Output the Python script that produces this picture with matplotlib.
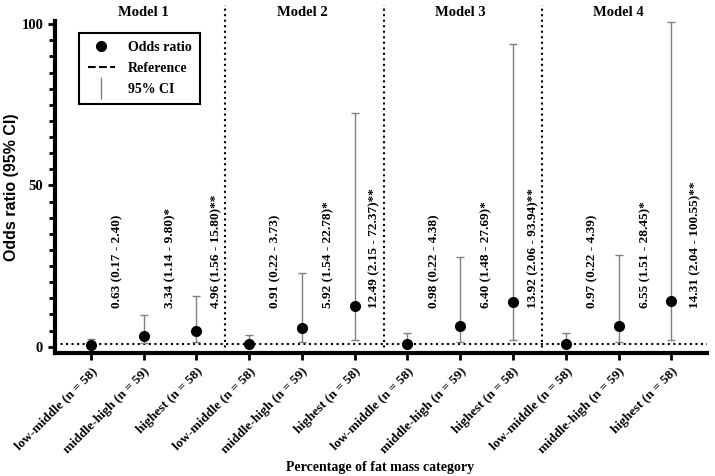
import matplotlib.pyplot as plt
from matplotlib.lines import Line2D
from matplotlib.ticker import MultipleLocator

# Data
models = ['Model 1', 'Model 2', 'Model 3', 'Model 4']
categories = ['low-middle (n = 58)', 'middle-high (n = 59)', 'highest (n = 58)']
odds = [0.63, 3.34, 4.96,
        0.91, 5.92, 12.49,
        0.98, 6.40, 13.92,
        0.97, 6.55, 14.31]
lower = [0.17, 1.14, 1.56,
         0.22, 1.54, 2.15,
         0.22, 1.48, 2.06,
         0.22, 1.51, 2.04]
upper = [2.40, 9.80, 15.80,
         3.73, 22.78, 72.37,
         4.38, 27.69, 93.94,
         4.39, 28.45, 100.55]
stars = ['', '*', '**'] * 4

serif = 'Liberation Serif'

fig = plt.figure(figsize=(7.15, 4.76), dpi=100)
ax = fig.add_axes([0.077, 0.258, 0.912, 0.698])

x = list(range(len(odds)))
yerr = [[o - l for o, l in zip(odds, lower)], [u - o for o, u in zip(odds, upper)]]

# reference line at OR = 1
ax.axhline(1, color='black', linestyle=':', linewidth=1.5, zorder=1)

ax.errorbar(x, odds, yerr=yerr, fmt='none', ecolor='#808080', elinewidth=1,
            capsize=3, capthick=1, zorder=2)
ax.plot(x, odds, 'o', color='black', markersize=7, zorder=3)

# rotated OR (CI) labels
for i in range(len(odds)):
    offs = 0.5 if i % 3 != 2 else 0.38
    if i == 11:
        offs = 0.45
    txt = '%.2f (%.2f - %.2f)%s' % (odds[i], lower[i], upper[i], stars[i])
    ax.text(i + offs, 12, txt, rotation=90, ha='center', va='bottom',
            fontsize=9.5, fontweight='bold', family=serif)

# model separators and titles
for k in range(1, 4):
    ax.axvline(3 * k - 0.45, ymin=0, ymax=1.048, color='black', linestyle=':',
               linewidth=1.5, clip_on=False, zorder=1)
for k, m in enumerate(models):
    ax.text(3 * k + 1, 103.5, m, ha='center', va='center', fontsize=10.5,
            fontweight='bold', family=serif, clip_on=False)

ax.set_xlim(-0.68, 11.68)
ax.set_ylim(-2, 101)
ax.set_xticks(x)
ax.set_xticklabels(categories * 4, rotation=45, ha='right', rotation_mode='anchor',
                   fontsize=9.5, fontweight='bold', family=serif)
ax.set_yticks([0, 50, 100])
ax.set_yticklabels(['0', '50', '100'], fontsize=10.5, fontweight='bold', family=serif)
ax.yaxis.set_minor_locator(MultipleLocator(5))
ax.tick_params(axis='both', which='major', direction='out', length=5, width=2)
ax.tick_params(axis='y', which='minor', direction='out', length=4, width=2)

for s in ['top', 'right']:
    ax.spines[s].set_visible(False)
for s in ['left', 'bottom']:
    ax.spines[s].set_linewidth(3)

ax.set_ylabel('Odds ratio (95% CI)', fontsize=11.5, fontweight='bold',
              family='Liberation Sans', labelpad=2)
fig.text(0.532, 0.005, 'Percentage of fat mass category', ha='center', va='bottom',
         fontsize=10, fontweight='bold', family=serif)

handles = [Line2D([], [], marker='o', color='black', linestyle='none', markersize=7),
           Line2D([], [], color='black', linestyle='--', linewidth=1.5),
           Line2D([], [], marker='|', color='#808080', linestyle='none',
                  markersize=16, markeredgewidth=1)]
leg = ax.legend(handles, ['Odds ratio', 'Reference', '95% CI'],
                loc='upper left', bbox_to_anchor=(0.037, 0.964), borderaxespad=0,
                fancybox=False, edgecolor='black', framealpha=1,
                prop={'family': serif, 'weight': 'bold', 'size': 10},
                handlelength=2.0, labelspacing=0.55, borderpad=0.6, handletextpad=0.9)
leg.get_frame().set_linewidth(1.5)

fig.savefig('out.png', dpi=100)
